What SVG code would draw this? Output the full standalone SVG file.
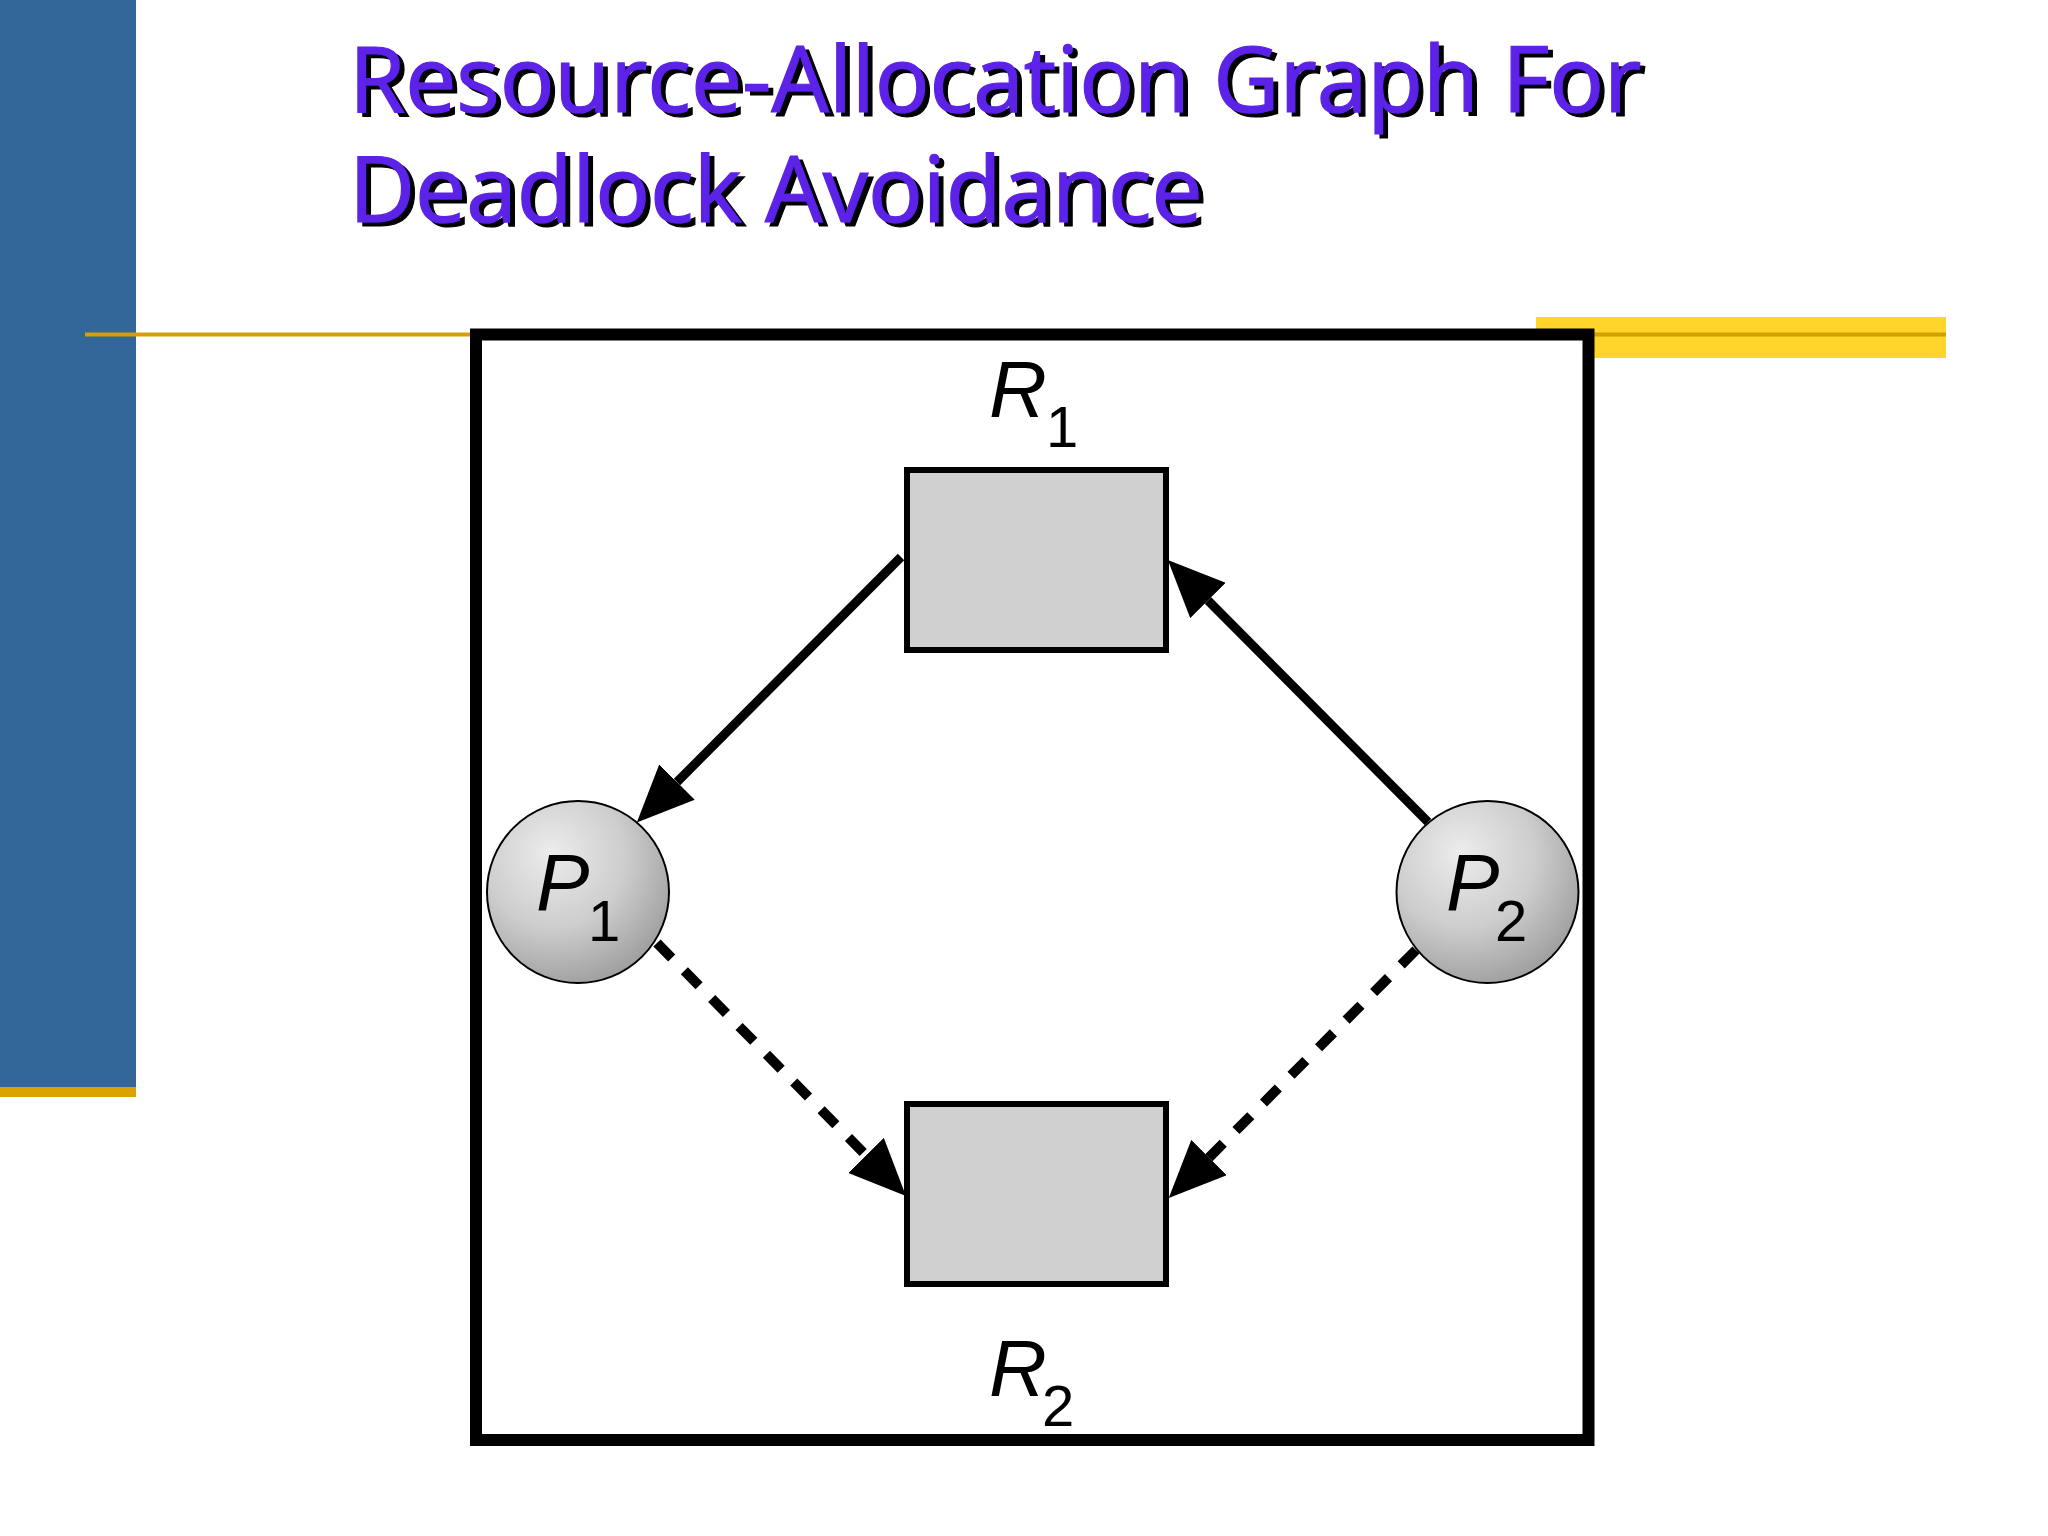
<svg xmlns="http://www.w3.org/2000/svg" width="2048" height="1536" viewBox="0 0 2048 1536">
  <defs>
    <radialGradient id="ball" cx="0.38" cy="0.32" r="0.72" fx="0.35" fy="0.28">
      <stop offset="0" stop-color="#ececec"/>
      <stop offset="0.55" stop-color="#cdcdcd"/>
      <stop offset="1" stop-color="#9e9e9e"/>
    </radialGradient>
    <filter id="shadow" x="-5%" y="-20%" width="110%" height="140%">
      <feDropShadow dx="5" dy="4" stdDeviation="0" flood-color="#000" flood-opacity="1"/>
    </filter>
    <marker id="head" viewBox="0 0 57 50" refX="0" refY="25" markerWidth="57" markerHeight="50" markerUnits="userSpaceOnUse" orient="auto">
      <path d="M0,0 L57,25 L0,50 z" fill="#000"/>
    </marker>
    <style>
      .title { font-family: "Open Sans", "Noto Sans", sans-serif; font-size: 91px; font-weight: 400; fill: #5b23e8; stroke: #5b23e8; stroke-width: 1.2px; }
      .lab { font-family: "Liberation Sans", Arial, sans-serif; fill: #000; }
      .main { font-size: 80px; font-style: italic; }
      .sub { font-size: 58px; }
      .res { fill: #d0d0d0; stroke: #000; stroke-width: 6; }
      .proc { fill: url(#ball); stroke: #000; stroke-width: 2; }
      .solid { stroke: #000; stroke-width: 9; fill: none; marker-end: url(#head); }
      .dash { stroke: #000; stroke-width: 10; fill: none; stroke-dasharray: 21 18; marker-end: url(#head); }
    </style>
  </defs>
  <rect width="2048" height="1536" fill="#fff"/>
  <!-- decorations -->
  <rect x="0" y="0" width="136" height="1088" fill="#336699"/>
  <rect x="0" y="1087" width="136" height="10" fill="#d9a300"/>
  <rect x="1536" y="317" width="410" height="41" fill="#ffd52b"/>
  <line x1="85" y1="334.5" x2="1946" y2="334.5" stroke="#d4a000" stroke-width="4"/>
  <!-- title -->
  <g id="title" filter="url(#shadow)">
    <text class="title" x="349" y="112">Resource-Allocation Graph For</text>
    <text class="title" x="349" y="222">Deadlock Avoidance</text>
  </g>
  <!-- frame -->
  <rect x="476" y="334.5" width="1112.5" height="1105.5" fill="#fff" stroke="#000" stroke-width="12"/>
  <!-- connectors -->
  <g id="connectors">
    <line class="solid" x1="901" y1="557" x2="677" y2="782"/>
    <line class="solid" x1="1428" y1="822" x2="1208" y2="600.5"/>
    <line class="dash" x1="657" y1="943" x2="866" y2="1155.4"/>
    <line class="dash" x1="1416" y1="950" x2="1209" y2="1157.6"/>
  </g>
  <!-- nodes -->
  <g id="R1">
    <rect class="res" x="907" y="470" width="259" height="180"/>
    <text class="lab main" x="989" y="417">R</text>
    <text class="lab sub" x="1046" y="447">1</text>
  </g>
  <g id="R2">
    <rect class="res" x="907" y="1104" width="259" height="180"/>
    <text class="lab main" x="989" y="1396">R</text>
    <text class="lab sub" x="1042" y="1426">2</text>
  </g>
  <g id="P1">
    <circle class="proc" cx="578" cy="892" r="91"/>
    <text class="lab main" x="536" y="910">P</text>
    <text class="lab sub" x="588" y="941">1</text>
  </g>
  <g id="P2">
    <circle class="proc" cx="1487.5" cy="892" r="91"/>
    <text class="lab main" x="1446" y="910">P</text>
    <text class="lab sub" x="1495" y="941">2</text>
  </g>
</svg>
